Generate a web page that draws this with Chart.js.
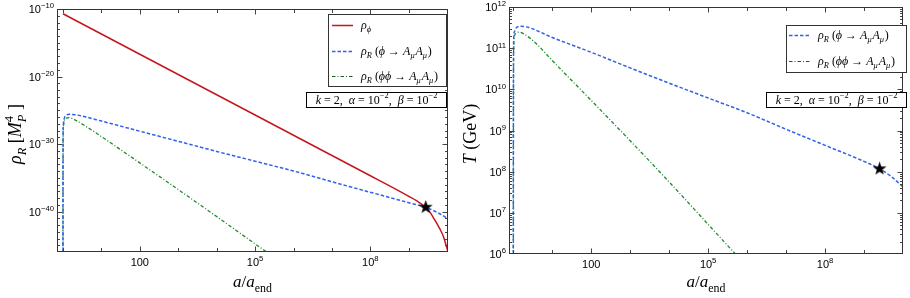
<!DOCTYPE html>
<html><head><meta charset="utf-8">
<script src="https://cdn.jsdelivr.net/npm/chart.js@4.4.1/dist/chart.umd.min.js"></script>
<style>
html,body{margin:0;padding:0;background:#fff;}
#wrap{position:relative;width:910px;height:298px;overflow:hidden;background:#fff;}
canvas{position:absolute;top:0;}
</style></head><body>
<div id="wrap">
<canvas id="left" width="455" height="298" style="left:0;width:455px;height:298px"></canvas>
<canvas id="right" width="455" height="298" style="left:455px;width:455px;height:298px"></canvas>
</div>
<script>
// ---- DATA (log10 exponents) ----
// Left panel: energy densities rho [M_P^4] vs a/a_end
const phiA    = [0, 1, 2, 3, 4, 5, 6, 7, 8, 8.5, 9, 9.2, 9.44, 9.55, 9.67, 9.8, 9.9, 9.97, 10.02, 10.08];
const phiRho  = [-10.7, -13.7, -16.7, -19.7, -22.7, -25.7, -28.7, -31.7, -34.7, -36.2, -37.75, -38.4, -39.37, -40.1, -41.2, -42.5, -43.7, -45.0, -46.0, -47.6];

const rA1     = [0, 0.003, 0.01, 0.03, 0.08, 0.16, 0.3, 0.6, 1, 2, 3, 4, 5, 6, 7, 8, 9, 9.44, 9.76, 10.02];
const rRho1   = [-50, -30, -27.2, -26.3, -25.8, -25.6, -25.65, -26.0, -26.6, -28.1, -29.6, -31.1, -32.55, -34.0, -35.6, -37.15, -38.7, -39.37, -40.2, -41.07];

const rA2     = [0, 0.003, 0.01, 0.03, 0.08, 0.16, 0.3, 0.6, 1, 2, 3, 4, 5, 5.3, 5.6];
const rRho2   = [-50, -30, -27.5, -26.6, -26.2, -26.1, -26.4, -27.4, -28.9, -32.8, -36.75, -40.75, -44.8, -46.0, -47.2];

const starLeftA = [9.44];
const starLeftRho = [-39.37];

// Right panel: temperature T [GeV] vs a/a_end
const tA1     = [0, 0.003, 0.01, 0.03, 0.08, 0.2, 0.4, 1, 2, 3, 4, 5, 6, 7, 8, 9, 9.4, 9.7, 10.0];
const tT1     = [2, 9, 11.2, 11.4, 11.5, 11.53, 11.5, 11.26, 10.9, 10.52, 10.15, 9.79, 9.43, 9.03, 8.64, 8.25, 8.07, 7.88, 7.63];

const tA2     = [0, 0.003, 0.01, 0.03, 0.08, 0.16, 0.3, 0.6, 1, 2, 3, 4, 5, 5.7, 6];
const tT2     = [2, 9, 11.0, 11.3, 11.37, 11.39, 11.33, 11.1, 10.7, 9.73, 8.75, 7.75, 6.72, 6.0, 5.7];

const starRightA = [9.40];
const starRightT = [8.07];

// Tick exponents
const xLabelExps = [2, 5, 8];
const xLabelText = ['100', '10^5', '10^8'];
const xMinorExps = [0, 1, 2, 3, 4, 5, 6, 7, 8, 9, 10];
const leftYLabelExps = [-10, -20, -30, -40];
const leftYMinorExps = Array.from({length: 37}, (_, i) => -46 + i);
const rightYLabelExps = [6, 7, 8, 9, 10, 11, 12];

// ---- helpers ----
const SERIF = '"Liberation Serif","DejaVu Serif",serif';
const SANS = '"Liberation Sans","DejaVu Sans",sans-serif';
const pts = (xs, ys) => xs.map((v, i) => ({x: Math.pow(10, v), y: Math.pow(10, ys[i])}));

function segFont(s, size) {
  const sz = s.s ? size * 0.7 : size;
  return (s.i ? 'italic ' : '') + sz.toFixed(1) + 'px ' + (s.f || SERIF);
}
function drawRich(ctx, segs, x, y, size, align) {
  let cx = 0, pend = 0; const out = [];
  for (const s of segs) {
    ctx.font = segFont(s, size);
    const w = ctx.measureText(s.t).width;
    const dy = s.s === 'sub' ? size * 0.28 : (s.s === 'sup' ? -size * 0.42 : 0);
    out.push({t: s.t, x: cx, dy, font: ctx.font});
    if (s.stack) { pend = Math.max(pend, w); } else { cx += Math.max(w, pend) + (s.gap || 0); pend = 0; }
  }
  const x0 = align === 'center' ? x - cx / 2 : (align === 'right' ? x - cx : x);
  ctx.fillStyle = '#000'; ctx.textAlign = 'left'; ctx.textBaseline = 'alphabetic';
  for (const o of out) { ctx.font = o.font; ctx.fillText(o.t, x0 + o.x, y + o.dy); }
}
function powLabel(txt) {
  if (txt.indexOf('^') < 0) return [{t: txt, f: SANS}];
  const [b, e] = txt.split('^');
  return [{t: b, f: SANS}, {t: e.replace('-', '\u2212'), s: 'sup', f: SANS}];
}

const starImg = (() => {
  const c = document.createElement('canvas'); c.width = 15; c.height = 15;
  const g = c.getContext('2d'); g.fillStyle = '#000'; g.beginPath();
  for (let i = 0; i < 10; i++) {
    const r = i % 2 === 0 ? 7.2 : 2.9; const a = -Math.PI / 2 + i * Math.PI / 5;
    const px = 7.5 + r * Math.cos(a), py = 7.5 + r * Math.sin(a);
    i === 0 ? g.moveTo(px, py) : g.lineTo(px, py);
  }
  g.closePath(); g.fill(); return c;
})();

const RED = '#c4161c', BLUE = '#2f62ee', GREEN = '#1f8a2a';
const BLUE_DASH = [3.5, 2], GREEN_DASH = [3.5, 2, 1, 2];

const MU = {t: '\u03BC', i: 1, s: 'sub', gap: 0.8};
const ROW_PHI = [{t: '\u03C1', i: 1}, {t: '\u03D5', i: 1, s: 'sub'}];
const ROW_R1 = [{t: '\u03C1', i: 1}, {t: 'R', i: 1, s: 'sub'}, {t: ' ('}, {t: '\u03D5', i: 1}, {t: ' \u2192 '},
  {t: 'A', i: 1}, MU, {t: 'A', i: 1}, MU, {t: ')'}];
const ROW_R2 = [{t: '\u03C1', i: 1}, {t: 'R', i: 1, s: 'sub'}, {t: ' ('}, {t: '\u03D5\u03D5', i: 1}, {t: ' \u2192 '},
  {t: 'A', i: 1}, MU, {t: 'A', i: 1}, MU, {t: ')'}];
const PARAMS = [{t: 'k', i: 1}, {t: ' = 2,  '}, {t: '\u03B1', i: 1}, {t: ' = 10'}, {t: '\u22122', s: 'sup'},
  {t: ',  '}, {t: '\u03B2', i: 1}, {t: ' = 10'}, {t: '\u22122', s: 'sup'}];
const XTITLE = [{t: 'a', i: 1}, {t: '/'}, {t: 'a', i: 1}, {t: 'end', s: 'sub'}];

function legendBox(ctx, x, y, w, h, rows, rowY, lx0, lx1, tx) {
  ctx.save();
  ctx.fillStyle = '#fff'; ctx.fillRect(x, y, w, h);
  ctx.strokeStyle = '#333'; ctx.lineWidth = 1; ctx.strokeRect(x + 0.5, y + 0.5, w, h);
  rows.forEach((r, i) => {
    ctx.save(); ctx.strokeStyle = r.color; ctx.lineWidth = r.lw; ctx.setLineDash(r.dash);
    ctx.beginPath(); ctx.moveTo(lx0, rowY[i] + 0.5); ctx.lineTo(lx1, rowY[i] + 0.5); ctx.stroke(); ctx.restore();
    drawRich(ctx, r.segs, tx, rowY[i] + 4, 12, 'left');
  });
  ctx.restore();
}
function paramBox(ctx, x, y, w, h) {
  ctx.save();
  ctx.fillStyle = '#fff'; ctx.fillRect(x, y, w, h);
  ctx.strokeStyle = '#000'; ctx.lineWidth = 1; ctx.strokeRect(x + 0.5, y + 0.5, w, h);
  drawRich(ctx, PARAMS, x + w / 2 + 0.5, y + h - 3.5, 12, 'center');
  ctx.restore();
}

function framePlugin(cfg) {
  return {
    id: 'frameTicks',
    afterDraw(chart) {
      const ctx = chart.ctx, a = chart.chartArea, xs = chart.scales.x, ys = chart.scales.y;
      ctx.save();
      ctx.strokeStyle = '#444'; ctx.lineWidth = 1; ctx.setLineDash([]);
      ctx.beginPath();
      const L = Math.round(a.left) + 0.5, R = Math.round(a.right) - 0.5, T = Math.round(a.top) + 0.5, B = Math.round(a.bottom) - 0.5;
      const xt = (v, len) => { const p = Math.round(xs.getPixelForValue(v)) + 0.5; if (p < L || p > R) return;
        ctx.moveTo(p, B); ctx.lineTo(p, B - len); ctx.moveTo(p, T); ctx.lineTo(p, T + len); };
      const yt = (v, len) => { const p = Math.round(ys.getPixelForValue(v)) + 0.5; if (p < T - 0.6 || p > B + 0.6) return;
        ctx.moveTo(L, p); ctx.lineTo(L + len, p); ctx.moveTo(R, p); ctx.lineTo(R - len, p); };
      xMinorExps.forEach(e => xt(Math.pow(10, e), xLabelExps.includes(e) ? 5 : 3.5));
      cfg.yMinor.forEach(v => yt(v, 2.5));
      cfg.yMajorExps.forEach(e => yt(Math.pow(10, e), 5));
      ctx.stroke();
      ctx.strokeStyle = '#333';
      ctx.strokeRect(L, T, R - L, B - T);
      // tick labels
      xLabelExps.forEach((e, i) => drawRich(ctx, powLabel(xLabelText[i]), xs.getPixelForValue(Math.pow(10, e)), a.bottom + 14, 11, 'center'));
      cfg.yMajorExps.forEach(e => { if (!cfg.yLabelExps.includes(e)) return;
        drawRich(ctx, powLabel('10^' + e), a.left - 3, ys.getPixelForValue(Math.pow(10, e)) + 4, 11, 'right'); });
      // axis titles
      drawRich(ctx, XTITLE, (a.left + a.right) / 2, 287, 17, 'center');
      ctx.save(); ctx.translate(cfg.yTitleX, 134); ctx.rotate(-Math.PI / 2);
      drawRich(ctx, cfg.yTitle, 0, 0, 18, 'center'); ctx.restore();
      cfg.boxes(ctx);
      ctx.restore();
    }
  };
}

function makeChart(id, datasets, xr, yr, pad, xH, yW, cfg) {
  return new Chart(document.getElementById(id), {
    type: 'line',
    data: {datasets},
    options: {
      responsive: false, animation: false, events: [],
      layout: {padding: pad},
      plugins: {legend: {display: false}, tooltip: {enabled: false}},
      elements: {point: {radius: 0}},
      scales: {
        x: {type: 'logarithmic', min: xr[0], max: xr[1], ticks: {display: false},
            grid: {display: false, drawTicks: false}, border: {display: false}, afterFit(s) { s.height = xH; }},
        y: {type: 'logarithmic', min: yr[0], max: yr[1], ticks: {display: false},
            grid: {display: false, drawTicks: false}, border: {display: false}, afterFit(s) { s.width = yW; }}
      }
    },
    plugins: [framePlugin(cfg)]
  });
}
const lineDs = (data, color, dash, lw, order) => ({data, borderColor: color, borderDash: dash, borderWidth: lw,
  fill: false, cubicInterpolationMode: 'monotone', pointRadius: 0, order});
const starDs = (data) => ({data, showLine: false, pointStyle: starImg, pointRadius: 7, borderWidth: 0, order: -1});

const rightMinor = [];
for (let e = 6; e < 12; e++) for (let m = 2; m <= 9; m++) rightMinor.push(m * Math.pow(10, e));

makeChart('left', [
  lineDs(pts(phiA, phiRho), RED, [], 1.5, 0),
  lineDs(pts(rA1, rRho1), BLUE, BLUE_DASH, 1.5, 1),
  lineDs(pts(rA2, rRho2), GREEN, GREEN_DASH, 1.3, 2),
  starDs(pts(starLeftA, starLeftRho))
], [Math.pow(10, -0.14), Math.pow(10, 10.02)], [1e-46, 1e-10], {left: 0, right: 5, top: 9, bottom: 0}, 46, 57, {
  yMinor: leftYMinorExps.map(e => Math.pow(10, e)),
  yMajorExps: leftYLabelExps, yLabelExps: leftYLabelExps, yTitleX: 21,
  yTitle: [{t: '\u03C1', i: 1}, {t: 'R', i: 1, s: 'sub'}, {t: ' ['}, {t: 'M', i: 1}, {t: 'P', i: 1, s: 'sub', stack: 1}, {t: '4', s: 'sup'}, {t: ' ]'}],
  boxes(ctx) {
    legendBox(ctx, 328, 14, 118, 72, [
      {segs: ROW_PHI, color: RED, dash: [], lw: 1.5},
      {segs: ROW_R1, color: BLUE, dash: BLUE_DASH, lw: 1.3},
      {segs: ROW_R2, color: '#145c1c', dash: GREEN_DASH, lw: 1.1}
    ], [25, 51, 76], 332, 353, 361);
    paramBox(ctx, 306, 92, 140, 15);
  }
});

makeChart('right', [
  lineDs(pts(tA1, tT1), BLUE, BLUE_DASH, 1.5, 1),
  lineDs(pts(tA2, tT2), GREEN, GREEN_DASH, 1.3, 2),
  starDs(pts(starRightA, starRightT))
], [Math.pow(10, -0.11), Math.pow(10, 10.0)], [1e6, 1e12], {left: 0, right: 3, top: 7, bottom: 0}, 44, 54, {
  yMinor: rightMinor,
  yMajorExps: rightYLabelExps, yLabelExps: rightYLabelExps, yTitleX: 21,
  yTitle: [{t: 'T', i: 1}, {t: ' (GeV)'}],
  boxes(ctx) {
    legendBox(ctx, 331, 25, 120, 47, [
      {segs: ROW_R1, color: BLUE, dash: BLUE_DASH, lw: 1.3},
      {segs: ROW_R2, color: '#145c1c', dash: GREEN_DASH, lw: 1.1}
    ], [35, 61], 334, 355, 363);
    paramBox(ctx, 311, 92, 140, 15);
  }
});
</script>
</body></html>
